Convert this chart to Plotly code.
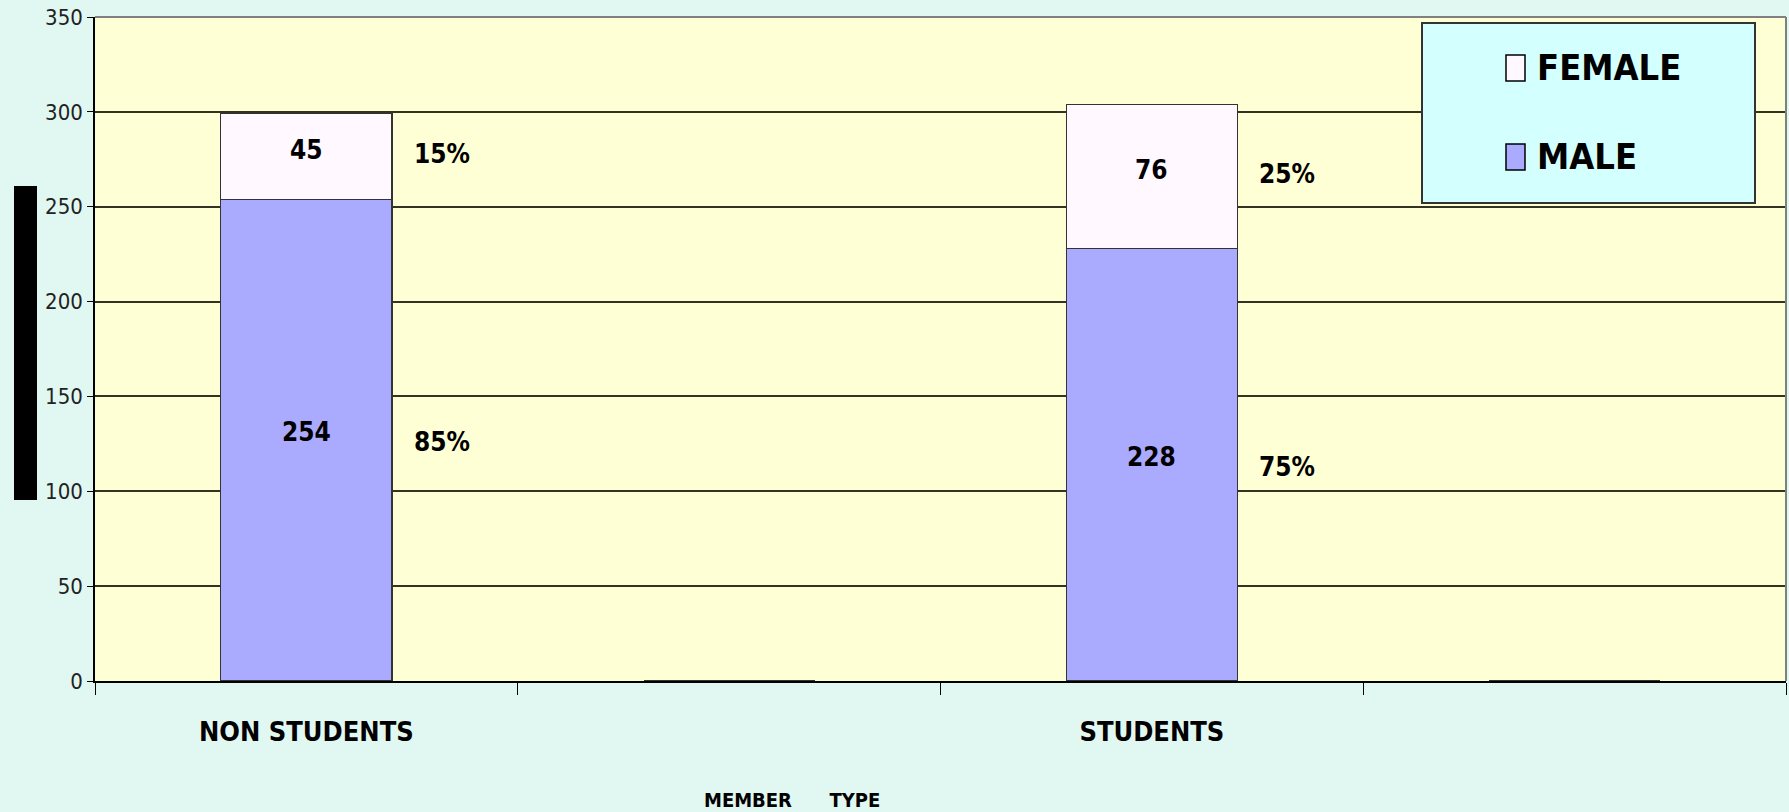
import plotly.graph_objects as go

# ---- data ----
categories = ["NON STUDENTS", " ", "STUDENTS", "  "]
male = [254, 0, 228, 0]
female = [45, 0, 76, 0]
male_pct = ["85%", "", "75%", ""]
female_pct = ["15%", "", "25%", ""]
y_ticks = [0, 50, 100, 150, 200, 250, 300, 350]
series_names = ["FEMALE", "MALE"]

NARROW = "Liberation Sans Narrow, Arial Narrow, DejaVu Sans Condensed, sans-serif"
BG = "#E1F7F2"
PLOT_BG = "#FFFFD5"
MALE_C = "#AAAAFF"
FEMALE_C = "#FFF8FF"
EDGE = "#333333"
LBL = dict(family=NARROW, size=26, color="black", weight="bold")

# plot area in pixels
W, H = 1789, 812
PL, PR = 95, 1786
PT, PB = 17, 681


def px_x(x):
    return (x - PL) / (PR - PL)


def px_y(y):
    return (PB - y) / (PB - PT)


fig = go.Figure()
fig.add_trace(go.Bar(
    x=categories, y=male, name="MALE",
    marker=dict(color=MALE_C, line=dict(color=EDGE, width=1.2)),
    width=0.405, showlegend=False, hoverinfo="skip",
))
fig.add_trace(go.Bar(
    x=categories, y=female, name="FEMALE",
    marker=dict(color=FEMALE_C, line=dict(color=EDGE, width=1.2)),
    width=0.405, showlegend=False, hoverinfo="skip",
))

annotations = []
for i in range(len(categories)):
    if male[i]:
        annotations.append(dict(x=i, y=male[i] / 2, xref="x", yref="y", yshift=8,
                                text=str(male[i]), showarrow=False, font=LBL))
    if female[i]:
        annotations.append(dict(x=i, y=male[i] + female[i] / 2, xref="x", yref="y", yshift=6,
                                text=str(female[i]), showarrow=False, font=LBL))
    if male_pct[i]:
        annotations.append(dict(x=i + 0.32, y=male[i] / 2, xref="x", yref="y", yshift=-2,
                                text=male_pct[i], showarrow=False, font=LBL))
    if female_pct[i]:
        annotations.append(dict(x=i + 0.32, y=male[i] + female[i] / 2, xref="x", yref="y", yshift=2,
                                text=female_pct[i], showarrow=False, font=LBL))

# axis title
annotations.append(dict(x=px_x(792), y=px_y(800), xref="paper", yref="paper",
                        xanchor="center", yanchor="middle",
                        text="MEMBER\u00a0\u00a0\u00a0\u00a0\u00a0\u00a0TYPE", showarrow=False,
                        font=dict(family=NARROW, size=20, color="black", weight="bold")))

shapes = [
    # top and right plot border (grey)
    dict(type="line", xref="paper", yref="paper", x0=0, x1=1, y0=1, y1=1,
         line=dict(color="#808080", width=2), layer="above"),
    dict(type="line", xref="paper", yref="paper", x0=1, x1=1, y0=0, y1=1,
         line=dict(color="#808080", width=2), layer="above"),
    # black block at left (axis title placeholder)
    dict(type="rect", xref="paper", yref="paper",
         x0=px_x(14), x1=px_x(37), y0=px_y(500), y1=px_y(186),
         fillcolor="black", line=dict(width=0)),
    # legend box
    dict(type="rect", xref="paper", yref="paper",
         x0=px_x(1422), x1=px_x(1755), y0=px_y(203), y1=px_y(23),
         fillcolor="#D4FFFF", line=dict(color="#333333", width=2), layer="above"),
]

# legend entries (swatch + label)
legend_rows = [(series_names[0], FEMALE_C, 68), (series_names[1], MALE_C, 157)]
for name, col, cy in legend_rows:
    shapes.append(dict(type="rect", xref="paper", yref="paper",
                       x0=px_x(1506), x1=px_x(1525), y0=px_y(cy + 13), y1=px_y(cy - 13),
                       fillcolor=col, line=dict(color="black", width=1.5), layer="above"))
    annotations.append(dict(x=px_x(1535), y=px_y(cy), xref="paper", yref="paper",
                            xanchor="left", yanchor="middle", text=name, showarrow=False,
                            font=dict(family=NARROW, size=36, color="black", weight="bold")))

fig.update_layout(
    barmode="stack",
    width=W, height=H,
    margin=dict(l=PL, r=W - PR, t=PT, b=H - PB),
    paper_bgcolor=BG, plot_bgcolor=PLOT_BG,
    showlegend=False,
    hovermode=False,
    annotations=annotations,
    shapes=shapes,
    xaxis=dict(
        type="category", categoryorder="array", categoryarray=categories,
        tickson="boundaries", ticks="outside", ticklen=12, tickcolor="black",
        showline=True, linecolor="black", linewidth=1.5,
        tickfont=dict(family=NARROW, size=27, color="black", weight="bold"),
        ticklabelstandoff=26, showgrid=False,
    ),
    yaxis=dict(
        range=[0, 350], tickvals=y_ticks, ticks="outside", ticklen=6, tickcolor="black",
        showline=True, linecolor="black", linewidth=1.5,
        showgrid=True, gridcolor="#333322", gridwidth=1.5,
        tickfont=dict(family=NARROW, size=22, color="#222222"),
        zeroline=False,
    ),
)

fig.write_html("out.html", config={"displayModeBar": False},
               post_script="document.body.style.margin='0px';")
